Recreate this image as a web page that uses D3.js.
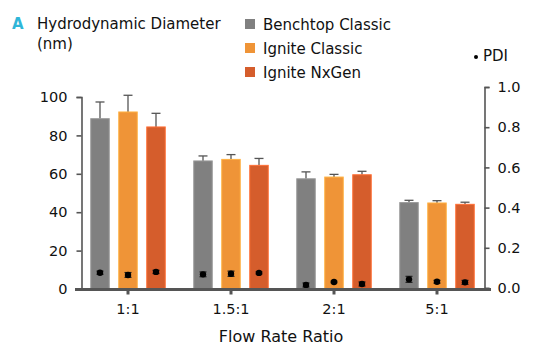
<!DOCTYPE html>
<html>
<head>
<meta charset="utf-8">
<script src="https://cdn.jsdelivr.net/npm/d3@7"></script>
<style>
  body { margin: 0; background: #fff; }
  svg text { font-family: "DejaVu Sans", Verdana, sans-serif; fill: #111; }
</style>
</head>
<body>
<div id="chart"></div>
<script>
const categories = ['1:1', '1.5:1', '2:1', '5:1'];
const seriesNames = ['Benchtop Classic', 'Ignite Classic', 'Ignite NxGen'];
const seriesColors = ['#808080', '#ef9437', '#d55d2c'];

// hydrodynamic diameter (nm), one array per series, and +SD
const benchtopSize = [88.7, 66.7, 57.4, 45.0];
const igniteSize = [92.2, 67.5, 58.3, 44.8];
const nxgenSize = [84.4, 64.4, 59.5, 44.1];
const benchtopSizeErr = [8.7, 2.6, 3.6, 1.2];
const igniteSizeErr = [8.7, 2.5, 1.4, 1.2];
const nxgenSizeErr = [7.1, 3.6, 1.8, 1.1];

// PDI, one array per series, and SD
const benchtopPdi = [0.076, 0.068, 0.015, 0.043];
const ignitePdi = [0.065, 0.071, 0.030, 0.031];
const nxgenPdi = [0.080, 0.075, 0.020, 0.028];
const benchtopPdiErr = [0.008, 0.012, 0.010, 0.015];
const ignitePdiErr = [0.012, 0.013, 0.004, 0.007];
const nxgenPdiErr = [0.008, 0.005, 0.010, 0.010];

const leftTicks = [0, 20, 40, 60, 80, 100];
const rightTicks = [0, 0.2, 0.4, 0.6, 0.8, 1.0];

const sizes = [benchtopSize, igniteSize, nxgenSize];
const sizeErrs = [benchtopSizeErr, igniteSizeErr, nxgenSizeErr];
const pdis = [benchtopPdi, ignitePdi, nxgenPdi];
const pdiErrs = [benchtopPdiErr, ignitePdiErr, nxgenPdiErr];

const width = 533, height = 346;
const axisColor = '#555';

const svg = d3.select('#chart').append('svg')
  .attr('width', width)
  .attr('height', height);

const x = d3.scaleBand().domain(categories).range([76.5, 488.5]);
const xInner = d3.scaleBand().domain(seriesNames).range([-42, 42])
  .paddingInner(0.34).paddingOuter(0.17);
const yLeft = d3.scaleLinear().domain([0, 100]).range([289, 97]);
const yRight = d3.scaleLinear().domain([0, 1]).range([288, 87]);

const rows = [];
categories.forEach((c, i) => {
  seriesNames.forEach((s, j) => {
    rows.push({
      cat: c, series: s, color: seriesColors[j],
      size: sizes[j][i], sizeErr: sizeErrs[j][i],
      pdi: pdis[j][i], pdiErr: pdiErrs[j][i]
    });
  });
});
const cx = d => x(d.cat) + x.bandwidth() / 2 + xInner(d.series) + xInner.bandwidth() / 2;

// size error bars (upper only)
const err = svg.append('g').attr('stroke', axisColor).attr('stroke-width', 1.3);
err.selectAll('line.v').data(rows).enter().append('line')
  .attr('x1', cx).attr('x2', cx)
  .attr('y1', d => yLeft(d.size)).attr('y2', d => yLeft(d.size + d.sizeErr));
err.selectAll('line.c').data(rows).enter().append('line')
  .attr('x1', d => cx(d) - 4.5).attr('x2', d => cx(d) + 4.5)
  .attr('y1', d => yLeft(d.size + d.sizeErr)).attr('y2', d => yLeft(d.size + d.sizeErr));

// bars
svg.append('g').selectAll('rect').data(rows).enter().append('rect')
  .attr('x', d => cx(d) - xInner.bandwidth() / 2)
  .attr('width', xInner.bandwidth())
  .attr('y', d => yLeft(d.size))
  .attr('height', d => yLeft(0) - yLeft(d.size))
  .attr('fill', d => d.color)
  .attr('stroke', d => d3.color(d.color).brighter(0.5))
  .attr('stroke-width', 1);

// PDI points with error bars
const pg = svg.append('g').attr('stroke', '#222').attr('stroke-width', 1.2);
pg.selectAll('line.pv').data(rows).enter().append('line')
  .attr('x1', cx).attr('x2', cx)
  .attr('y1', d => yRight(d.pdi - d.pdiErr)).attr('y2', d => yRight(d.pdi + d.pdiErr));
[-1, 1].forEach(sg => {
  pg.selectAll('line.pc' + sg).data(rows).enter().append('line')
    .attr('x1', d => cx(d) - 3.5).attr('x2', d => cx(d) + 3.5)
    .attr('y1', d => yRight(d.pdi + sg * d.pdiErr)).attr('y2', d => yRight(d.pdi + sg * d.pdiErr));
});
pg.selectAll('circle').data(rows).enter().append('circle')
  .attr('cx', cx).attr('cy', d => yRight(d.pdi)).attr('r', 3.2)
  .attr('fill', '#000').attr('stroke', 'none');

// left axis
const gl = svg.append('g').attr('transform', 'translate(81.5,0)')
  .call(d3.axisLeft(yLeft).tickValues(leftTicks).tickSize(5).tickPadding(9));
// right axis
const gr = svg.append('g').attr('transform', 'translate(484.5,0)')
  .call(d3.axisRight(yRight).tickValues(rightTicks).tickSize(5).tickPadding(8)
    .tickFormat(d3.format('.1f')));
[gl, gr].forEach(g => {
  g.select('.domain').attr('stroke', axisColor).attr('stroke-width', 1.6);
  g.selectAll('.tick line').attr('stroke', axisColor).attr('stroke-width', 1.6);
  g.selectAll('.tick text').attr('font-size', 14.5).attr('fill', '#111')
    .attr('font-family', '"DejaVu Sans", Verdana, sans-serif');
});

// bottom axis
const gb = svg.append('g').attr('transform', 'translate(0,289.5)')
  .call(d3.axisBottom(x).tickSize(5).tickPadding(9).tickSizeOuter(0));
gb.select('.domain').attr('stroke', axisColor).attr('stroke-width', 3.2)
  .attr('d', 'M75,0H491');
gb.selectAll('.tick line').attr('stroke', axisColor).attr('stroke-width', 3);
gb.selectAll('.tick text').attr('font-size', 14.5).attr('fill', '#111')
  .attr('font-family', '"DejaVu Sans", Verdana, sans-serif');

// axis title
svg.append('text').attr('x', 281).attr('y', 342).attr('text-anchor', 'middle')
  .attr('font-size', 16).text('Flow Rate Ratio');

// panel label and left title
svg.append('text').attr('x', 12).attr('y', 29).attr('font-size', 15)
  .attr('font-weight', 'bold').style('fill', '#2fb6d8').text('A');
svg.append('text').attr('x', 37).attr('y', 29).attr('font-size', 15).text('Hydrodynamic Diameter');
svg.append('text').attr('x', 37).attr('y', 49).attr('font-size', 15).text('(nm)');

// legend
const lg = svg.append('g').selectAll('g').data(seriesNames).enter().append('g')
  .attr('transform', (d, i) => `translate(245,${19 + i * 24})`);
lg.append('rect').attr('width', 10).attr('height', 10)
  .attr('fill', (d, i) => seriesColors[i]);
lg.append('text').attr('x', 18).attr('y', 11).attr('font-size', 15).text(d => d);

svg.append('circle').attr('cx', 476).attr('cy', 57).attr('r', 2).attr('fill', '#000');
svg.append('text').attr('x', 483).attr('y', 61).attr('font-size', 15).text('PDI');
</script>
</body>
</html>
